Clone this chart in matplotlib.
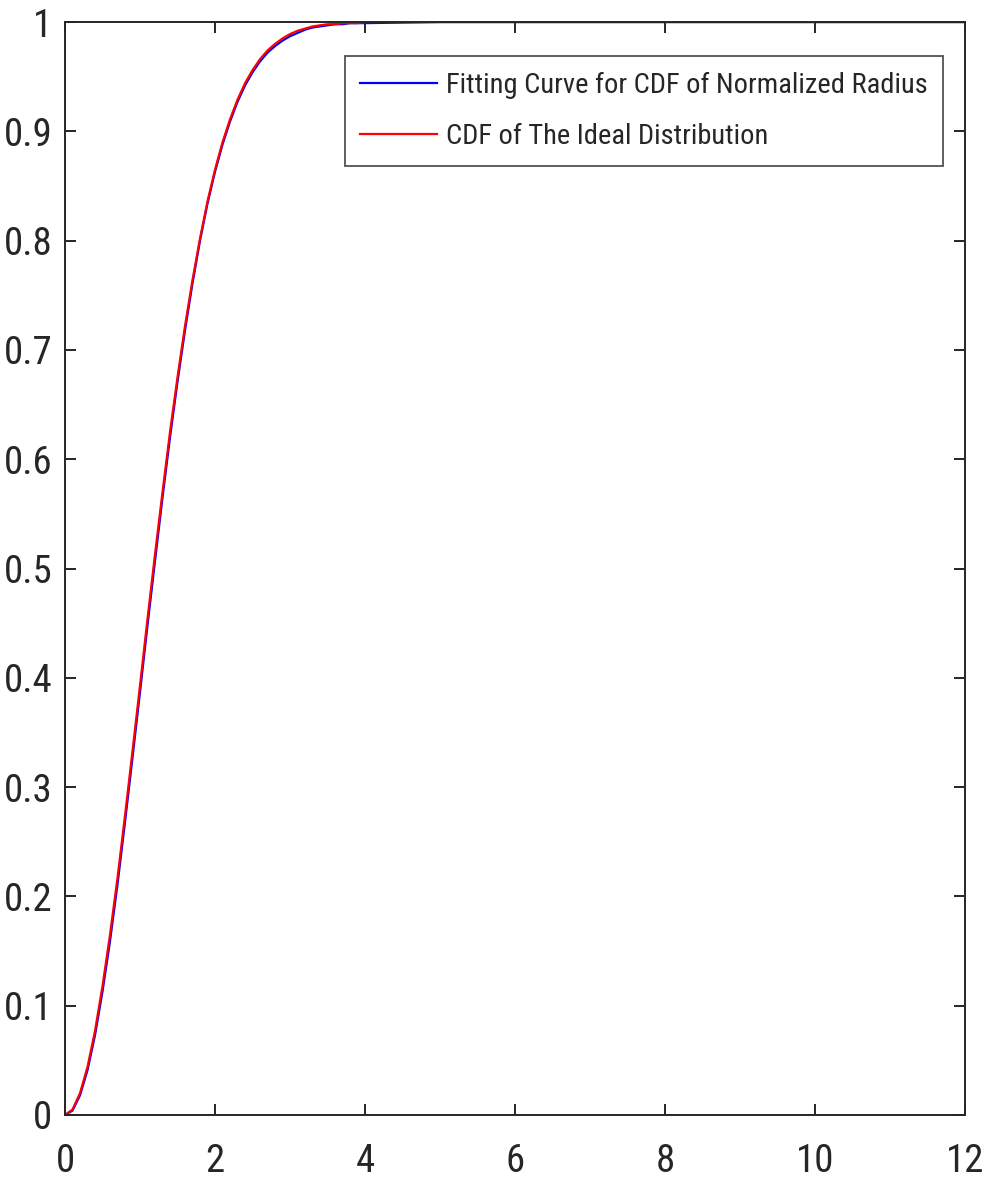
import matplotlib
matplotlib.use("Agg")
import matplotlib.pyplot as plt
from matplotlib import font_manager

# Normalized radius (x) and CDF values for the two curves
radius = [round(0.1 * i, 1) for i in range(41)] + [4.5, 5.0, 12.0]
cdf_fit = [0.0, 0.004, 0.018, 0.041, 0.073, 0.113, 0.159, 0.211, 0.268, 0.327,
           0.387, 0.448, 0.507, 0.565, 0.620, 0.671, 0.718, 0.761, 0.800, 0.834,
           0.863, 0.888, 0.909, 0.927, 0.942, 0.954, 0.964, 0.972, 0.978, 0.983,
           0.987, 0.990, 0.993, 0.995, 0.996, 0.997, 0.998, 0.998, 0.999, 0.999,
           0.999, 0.9995, 1.0, 1.0]
cdf_ideal = [0.0, 0.005, 0.020, 0.044, 0.077, 0.118, 0.165, 0.217, 0.274, 0.333,
             0.393, 0.454, 0.513, 0.570, 0.625, 0.675, 0.722, 0.764, 0.802, 0.836,
             0.865, 0.890, 0.911, 0.929, 0.944, 0.956, 0.966, 0.974, 0.980, 0.985,
             0.989, 0.992, 0.994, 0.996, 0.997, 0.998, 0.998, 0.999, 0.999, 0.999,
             1.0, 1.0, 1.0, 1.0]
legend_labels = ["Fitting Curve for CDF of Normalized Radius",
                 "CDF of The Ideal Distribution"]
x_ticks = [0, 2, 4, 6, 8, 10, 12]
y_ticks = [0, 0.1, 0.2, 0.3, 0.4, 0.5, 0.6, 0.7, 0.8, 0.9, 1]
y_tick_labels = ["0", "0.1", "0.2", "0.3", "0.4", "0.5", "0.6", "0.7",
                 "0.8", "0.9", "1"]

# Pick a narrow sans-serif face
names = {f.name for f in font_manager.fontManager.ttflist}
candidates = ["Liberation Sans Narrow", "Arial Narrow", "Roboto Condensed",
              "Archivo Narrow", "PT Sans Narrow", "Open Sans Condensed",
              "Sofia Sans Condensed", "Fira Sans Condensed",
              "IBM Plex Sans Condensed", "Encode Sans Condensed",
              "Barlow Semi Condensed", "Saira SemiCondensed", "Liberation Sans"]
family = next(c for c in candidates if c in names)
plt.rcParams["font.family"] = [family, "DejaVu Sans"]

fig = plt.figure(figsize=(9.91, 11.85), dpi=100)
ax = fig.add_axes([0.0656, 0.0591, 0.9082, 0.9223])

ax.plot(radius, cdf_fit, color=(0, 0, 1), lw=1.6, label=legend_labels[0],
        solid_joinstyle="round")
ax.plot(radius, cdf_ideal, color=(1, 0, 0), lw=1.6, label=legend_labels[1],
        solid_joinstyle="round")

ax.set_xlim(0, 12)
ax.set_ylim(0, 1)
ax.set_xticks(x_ticks)
ax.set_xticklabels([str(t) for t in x_ticks])
ax.set_yticks(y_ticks)
ax.set_yticklabels(y_tick_labels)

edge = "#262626"
for s in ax.spines.values():
    s.set_color(edge)
    s.set_linewidth(1.4)
ax.tick_params(direction="in", length=8, width=1.4, color=edge,
               top=True, right=True, labelsize=28, labelcolor=edge)
ax.tick_params(axis="x", pad=20)
ax.tick_params(axis="y", pad=9)

leg = ax.legend(loc="upper right", bbox_to_anchor=(0.9756, 0.969),
                fontsize=20.5, frameon=True, fancybox=False, handlelength=2.7,
                handletextpad=0.3, borderpad=0.55, labelspacing=0.87,
                borderaxespad=0)
leg.get_frame().set_edgecolor(edge)
leg.get_frame().set_linewidth(1.3)
for t in leg.get_texts():
    t.set_color(edge)

fig.savefig("out.png", dpi=100)
